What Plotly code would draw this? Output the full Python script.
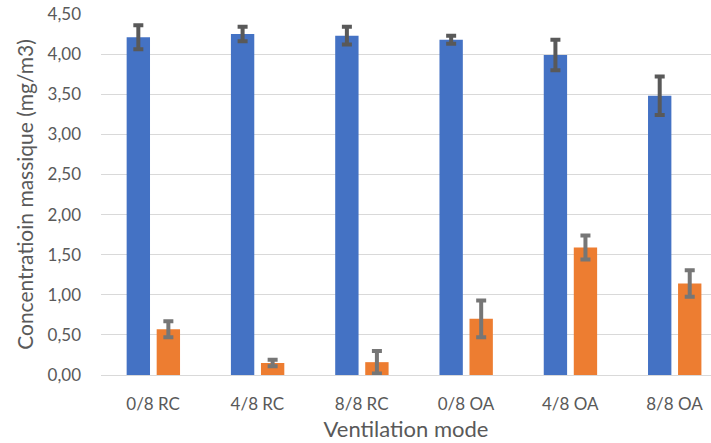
import plotly.graph_objects as go

# Ventilation modes on the category axis
modes = ["0/8 RC", "4/8 RC", "8/8 RC", "0/8 OA", "4/8 OA", "8/8 OA"]

# Mass concentration (mg/m3) for the two series, with their error margins
series_a = [4.21, 4.25, 4.23, 4.18, 3.99, 3.48]
series_a_err = [0.15, 0.09, 0.11, 0.05, 0.19, 0.24]
series_b = [0.57, 0.15, 0.16, 0.70, 1.59, 1.14]
series_b_err = [0.10, 0.04, 0.14, 0.23, 0.15, 0.165]

y_ticks = [0, 0.5, 1.0, 1.5, 2.0, 2.5, 3.0, 3.5, 4.0, 4.5]

FONT = "Lato"
TEXT = "#595959"
GRID = "#D9D9D9"

fig = go.Figure()
fig.add_trace(go.Bar(
    x=modes, y=series_a, width=0.224, offset=-0.254,
    marker=dict(color="#4472C4", line=dict(width=0)),
    error_y=dict(type="data", array=series_a_err, visible=True,
                 color="#595959", thickness=4, width=5),
    showlegend=False,
))
fig.add_trace(go.Bar(
    x=modes, y=series_b, width=0.224, offset=0.034,
    marker=dict(color="#ED7D31", line=dict(width=0)),
    error_y=dict(type="data", array=series_b_err, visible=True,
                 color="#767676", thickness=4, width=5),
    showlegend=False,
))

fig.update_layout(
    width=711, height=443,
    margin=dict(l=101, r=0, t=14, b=68),
    paper_bgcolor="white", plot_bgcolor="white",
    separators=", ",
    font=dict(family=FONT, color=TEXT, size=17),
    barmode="overlay",
)
fig.update_xaxes(
    type="category", range=[-0.5, 5.35],
    showgrid=False, showline=True, linecolor=GRID, linewidth=1,
    ticks="", ticklabelstandoff=14,
    tickfont=dict(family=FONT, size=17, color=TEXT),
    title=dict(text="Ventilation mode", font=dict(family=FONT, size=22, color=TEXT), standoff=8),
    automargin=False,
)
fig.update_yaxes(
    range=[0, 4.5], tickvals=y_ticks, tickformat=".2f",
    showgrid=True, gridcolor=GRID, gridwidth=1,
    zeroline=False, showline=False, ticks="",
    ticklabelstandoff=19,
    tickfont=dict(family=FONT, size=17, color=TEXT),
    title=dict(text="Concentratioin massique (mg/m3)", font=dict(family=FONT, size=21, color=TEXT), standoff=8),
    automargin=False,
)

fig.write_html("out.html")
